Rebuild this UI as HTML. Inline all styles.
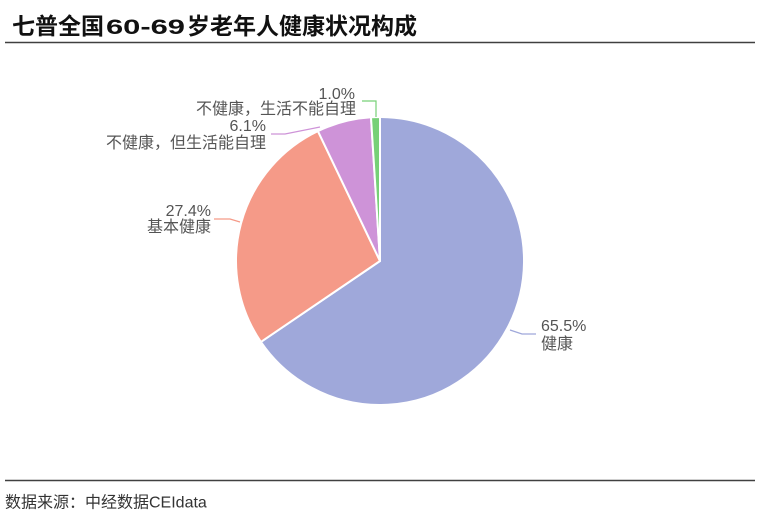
<!DOCTYPE html>
<html>
<head>
<meta charset="utf-8">
<style>
  html,body{margin:0;padding:0;background:#fff;}
  body{width:767px;height:519px;overflow:hidden;}
  svg{display:block;}
  .t{font-family:"Liberation Sans","Noto Sans CJK SC",sans-serif;}
</style>
</head>
<body>
<svg width="767" height="519" viewBox="0 0 767 519" xmlns="http://www.w3.org/2000/svg">
  <rect width="767" height="519" fill="#ffffff"/>
  <!-- title -->
  <g class="t" font-size="23" font-weight="bold" fill="#111">
    <text x="12" y="34">七普全国</text>
    <text x="106" y="34" font-size="21.5" textLength="79" lengthAdjust="spacingAndGlyphs">60-69</text>
    <text x="187" y="34">岁老年人健康状况构成</text>
  </g>
  <line x1="5" y1="42.5" x2="755" y2="42.5" stroke="#404040" stroke-width="1.5"/>

  <!-- pie -->
  <g stroke="#ffffff" stroke-width="2" stroke-linejoin="round">
    <path d="M380,261 L380,117 A144,144 0 1,1 260.9,341.9 Z" fill="#9FA8DA"/>
    <path d="M380,261 L260.9,341.9 A144,144 0 0,1 317.9,131.1 Z" fill="#F59A88"/>
    <path d="M380,261 L317.9,131.1 A144,144 0 0,1 371.0,117.3 Z" fill="#CE93D8"/>
    <path d="M380,261 L371.0,117.3 A144,144 0 0,1 380,117 Z" fill="#77D077"/>
  </g>

  <!-- label lines -->
  <g fill="none" stroke-width="1.2">
    <polyline points="510,330 522,334 536,334" stroke="#9FA8DA"/>
    <polyline points="240,222 230,219 214,219" stroke="#F59A88"/>
    <polyline points="320,127 285,134 271,134" stroke="#CE93D8"/>
    <polyline points="376,117 376,101 362,101" stroke="#77D077"/>
  </g>

  <!-- labels -->
  <g class="t" font-size="16" fill="#555">
    <text x="541" y="331">65.5%</text>
    <text x="541" y="349">健康</text>

    <text x="211" y="216" text-anchor="end">27.4%</text>
    <text x="211" y="232" text-anchor="end">基本健康</text>

    <text x="266" y="131" text-anchor="end">6.1%</text>
    <text x="266" y="148" text-anchor="end">不健康，但生活能自理</text>

    <text x="355" y="99" text-anchor="end">1.0%</text>
    <text x="356" y="114" text-anchor="end">不健康，生活不能自理</text>
  </g>

  <!-- footer -->
  <line x1="5" y1="480.5" x2="755" y2="480.5" stroke="#404040" stroke-width="1.5"/>
  <text class="t" x="5" y="507.5" font-size="16" fill="#333">数据来源：中经数据CEIdata</text>
</svg>
</body>
</html>
